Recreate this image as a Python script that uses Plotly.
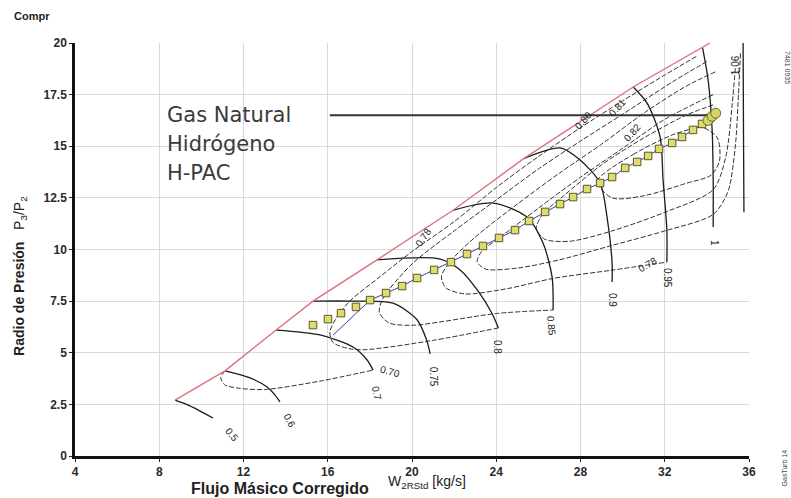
import plotly.graph_objects as go

# ---- compressor map data -------------------------------------------------
# surge line (corrected flow kg/s, pressure ratio)
surge_x = [8.75, 11.12, 13.55, 15.3, 18.34, 21.95, 25.3, 30.5, 34.15]
surge_y = [2.71, 4.12, 6.1, 7.5, 9.5, 11.9, 14.4, 17.87, 20.0]

# corrected speed lines
speed_names = ["0.5", "0.6", "0.7", "0.75", "0.8", "0.85", "0.9", "0.95", "1", "1.06"]
speed_x = [
    [8.75, 9.3, 9.9, 10.55],
    [11.12, 12.31, 13.12, 13.5, 13.73],
    [13.55, 15.63, 17.2, 17.87, 18.15],
    [15.3, 17.2, 19.1, 20.24, 20.7, 20.86],
    [18.34, 21.3, 22.3, 23.2, 23.8, 24.1],
    [21.95, 23.85, 25.46, 26.22, 26.65, 26.7],
    [25.3, 27.03, 27.98, 28.93, 29.26, 29.5, 29.5],
    [30.5, 31.16, 31.78, 31.92, 32.1, 32.1],
    [33.8, 34.06, 34.25, 34.3, 34.3],
    [35.72, 35.74, 35.76],
]
speed_y = [
    [2.71, 2.5, 2.2, 1.84],
    [4.12, 3.78, 3.34, 2.95, 2.62],
    [6.1, 5.86, 5.28, 4.65, 4.16],
    [7.5, 7.5, 7.4, 6.6, 5.6, 4.95],
    [9.5, 9.55, 9.0, 7.9, 6.9, 6.2],
    [11.9, 12.25, 11.57, 10.31, 8.67, 7.07],
    [14.4, 14.92, 14.33, 13.22, 11.57, 9.35, 8.43],
    [17.87, 17.09, 15.45, 13.37, 10.94, 9.39],
    [19.75, 18.2, 15.79, 13.37, 11.09],
    [20.0, 15.5, 11.8],
]

# isentropic efficiency contours
eff_x = [
    [11.12, 10.92, 11.1, 11.8, 13.0, 15.6, 18.15],
    [33.5, 32.0, 30.0, 28.0, 26.0, 24.0, 22.0, 20.0, 18.5, 17.1, 16.45, 16.1, 16.25,
     17.0, 17.8, 21.0, 24.1],
    [34.0, 32.5, 30.0, 28.0, 26.0, 24.0, 22.0, 20.0, 18.6, 18.45, 18.9, 20.0, 24.0, 26.7],
    [34.4, 33.0, 31.0, 29.0, 27.0, 25.0, 23.0, 21.8, 21.4, 21.6, 22.5, 24.5, 26.7,
     29.5, 32.1],
    [34.3, 32.0, 30.0, 28.0, 26.0, 24.2, 23.3, 23.1, 23.5, 25.0, 27.0, 29.5, 32.0,
     34.3, 35.0, 35.35, 35.5, 35.6],
    [34.3, 33.0, 31.0, 29.0, 27.2, 26.2, 25.9, 26.3, 27.5, 29.5, 32.0, 34.3, 34.9,
     35.2, 35.35],
    [28.8, 30.5, 32.5, 33.8, 34.5, 34.6, 34.2, 33.0, 31.0, 29.5, 28.8],
]
eff_y = [
    [4.12, 3.8, 3.45, 3.28, 3.22, 3.62, 4.16],
    [19.35, 18.45, 17.2, 15.9, 14.5, 13.0, 11.35, 9.9, 8.7, 7.55, 6.75, 6.0, 5.5,
     5.2, 5.15, 5.6, 6.2],
    [19.1, 18.2, 16.55, 15.25, 13.9, 12.4, 10.9, 9.3, 7.6, 6.95, 6.45, 6.33, 6.9, 7.07],
    [18.6, 17.9, 16.6, 15.1, 13.7, 12.2, 10.6, 9.4, 8.7, 8.15, 7.85, 8.1, 8.6,
     9.0, 9.39],
    [17.5, 16.3, 14.9, 13.5, 12.0, 10.6, 9.9, 9.4, 9.05, 9.1, 9.5, 10.2, 10.9,
     11.7, 12.8, 15.0, 17.5, 19.6],
    [17.0, 16.5, 15.4, 14.1, 12.6, 11.7, 11.0, 10.5, 10.4, 10.9, 11.8, 12.9, 14.5,
     17.0, 18.8],
    [13.3, 14.6, 15.6, 15.9, 15.4, 14.3, 13.6, 13.2, 12.6, 12.5, 13.3],
]

# operating line (one point per load step)
op_x = [15.30, 16.01, 16.63, 17.34, 18.01, 18.77, 19.53, 20.24, 21.05, 21.85,
        22.61, 23.37, 24.13, 24.89, 25.56, 26.32, 27.03, 27.65, 28.31, 28.93,
        29.50, 30.12, 30.69, 31.21, 31.73, 32.35, 32.82, 33.34, 33.77, 34.15]
op_y = [6.34, 6.63, 6.92, 7.22, 7.55, 7.89, 8.23, 8.62, 9.01, 9.39,
        9.78, 10.17, 10.56, 10.94, 11.38, 11.82, 12.20, 12.54, 12.93, 13.22,
        13.51, 13.95, 14.24, 14.53, 14.87, 15.16, 15.45, 15.79, 16.08, 16.37]
# running line leading into the operating points
run_x = [16.25, 17.3, 18.01]
run_y = [5.85, 6.85, 7.55]

# design points per fuel
fuel_names = ["Gas Natural", "Hidrógeno", "H-PAC"]
design_x = [34.05, 34.25, 34.42]
design_y = [16.25, 16.45, 16.6]

fig = go.Figure()

line_black = "#1c1c1c"

# efficiency contours (dashed)
for xs, ys in zip(eff_x, eff_y):
    fig.add_trace(go.Scatter(x=xs, y=ys, mode="lines",
                             line=dict(color="#333333", width=1, dash="5px,2px",
                                       shape="spline", smoothing=0.8),
                             hoverinfo="skip", showlegend=False))

# speed lines
for name, xs, ys in zip(speed_names, speed_x, speed_y):
    fig.add_trace(go.Scatter(x=xs, y=ys, mode="lines", name=name,
                             line=dict(color=line_black, width=1.3,
                                       shape="spline", smoothing=0.8),
                             showlegend=False))

# surge line
fig.add_trace(go.Scatter(x=surge_x, y=surge_y, mode="lines",
                         line=dict(color="#e0707e", width=1.4),
                         showlegend=False))

# running line
fig.add_trace(go.Scatter(x=run_x + op_x[5:], y=run_y + op_y[5:], mode="lines",
                         line=dict(color="#3c3ca8", width=1),
                         showlegend=False))

# operating points
fig.add_trace(go.Scatter(x=op_x, y=op_y, mode="markers",
                         marker=dict(symbol="square", size=7.5, color="#dcdc72",
                                     line=dict(color="#5a5a1e", width=1)),
                         showlegend=False))

# pointer from the legend text to the design point
fig.add_trace(go.Scatter(x=[16.1, design_x[1]], y=[16.5, 16.5],
                         mode="lines", line=dict(color="#333333", width=2),
                         showlegend=False))

# design points
fig.add_trace(go.Scatter(x=design_x, y=design_y, mode="markers",
                         marker=dict(symbol="circle", size=10, color="#d4d468",
                                     line=dict(color="#6a6a22", width=1)),
                         showlegend=False))

annotations = []

# fuel names
for i, name in enumerate(fuel_names):
    annotations.append(dict(x=8.27, y=16.51 - 1.40 * i, xref="x", yref="y",
                            text=name, showarrow=False, xanchor="left",
                            yanchor="middle",
                            font=dict(family="DejaVu Sans", size=21, color="#3a3a3a")))

# curve labels: text, x, y, angle
curve_labels = [
    ("0.5", 11.45, 1.05, 50),
    ("0.6", 14.2, 1.74, 62),
    ("0.7", 18.34, 3.05, 78),
    ("0.70", 18.96, 4.07, 15),
    ("0.75", 21.0, 3.83, 90),
    ("0.8", 24.04, 5.28, 90),
    ("0.85", 26.6, 6.3, 85),
    ("0.9", 29.55, 7.55, 90),
    ("0.95", 32.16, 8.62, 90),
    ("0.78", 31.2, 9.25, -30),
    ("1", 34.39, 10.31, 90),
    ("0.78", 20.52, 10.6, -55),
    ("0.80", 28.12, 16.27, -48),
    ("0.81", 29.74, 16.9, -48),
    ("0.82", 30.45, 15.69, -48),
    ("1.06", 35.34, 18.93, -90),
]
for txt, lx, ly, ang in curve_labels:
    annotations.append(dict(x=lx, y=ly, xref="x", yref="y", text=txt,
                            showarrow=False, textangle=ang,
                            font=dict(family="Liberation Sans", size=10, color="#222222")))

# axis titles and side notes
annotations += [
    dict(x=-0.0816, y=0.436, xref="paper", yref="paper", textangle=-90,
         xanchor="center", yanchor="middle",
         text="<b>Radio de Presión</b>   P<sub>3</sub>/P<sub>2</sub>",
         showarrow=False,
         font=dict(family="Liberation Sans", size=14, color="#222222")),
    dict(x=0.304, y=-0.0775, xref="paper", yref="paper",
         xanchor="center", yanchor="middle",
         text="<b>Flujo Másico Corregido</b>", showarrow=False,
         font=dict(family="Liberation Sans", size=16, color="#222222")),
    dict(x=0.461, y=-0.064, xref="paper", yref="paper",
         xanchor="left", yanchor="middle",
         text="W<sub>2RStd</sub> [kg/s]", showarrow=False,
         font=dict(family="Liberation Sans", size=14, color="#222222")),
    dict(x=-0.0935, y=1.065, xref="paper", yref="paper",
         xanchor="left", yanchor="middle",
         text="<b>Compr</b>", showarrow=False,
         font=dict(family="Liberation Sans", size=11, color="#222222")),
    dict(x=1.056, y=0.94, xref="paper", yref="paper", textangle=90,
         xanchor="center", yanchor="middle",
         text="7481 0935", showarrow=False,
         font=dict(family="Liberation Sans", size=7, color="#444444")),
    dict(x=1.052, y=-0.03, xref="paper", yref="paper", textangle=-90,
         xanchor="center", yanchor="middle",
         text="GasTurb 14", showarrow=False,
         font=dict(family="Liberation Sans", size=7, color="#444444")),
]

axis_common = dict(
    showgrid=True, gridcolor="#d9d9d9", gridwidth=1,
    zeroline=False, ticks="outside", ticklen=3, tickcolor="#222222",
    tickfont=dict(family="Liberation Sans", size=12, color="#2a2a2a", weight="bold"),
    showline=True, linecolor="#111111", linewidth=2.5, mirror=False,
)

fig.update_layout(
    width=791, height=498,
    margin=dict(l=75, r=42, t=43, b=42),
    paper_bgcolor="white", plot_bgcolor="white",
    showlegend=False,
    annotations=annotations,
    xaxis=dict(range=[4, 36], tickvals=[4, 8, 12, 16, 20, 24, 28, 32, 36],
               **axis_common),
    yaxis=dict(range=[0, 20], tickvals=[0, 2.5, 5, 7.5, 10, 12.5, 15, 17.5, 20],
               **axis_common),
)

fig.write_html("out.html")
